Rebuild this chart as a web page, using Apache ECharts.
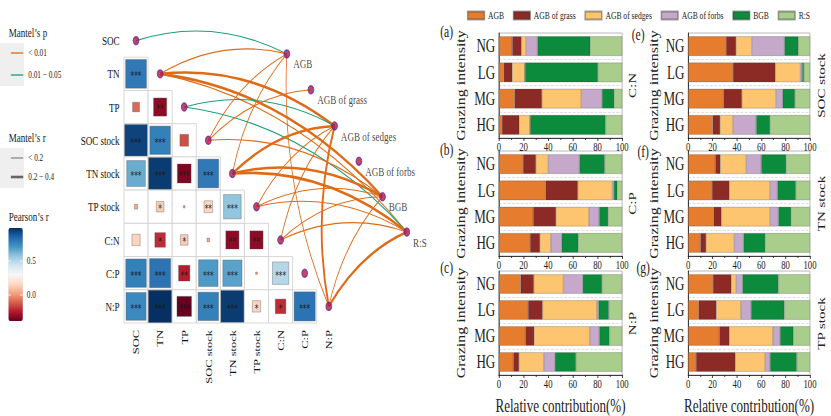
<!DOCTYPE html>
<html><head><meta charset="utf-8">
<script src="https://cdn.jsdelivr.net/npm/echarts@6/dist/echarts.min.js"></script>
<style>
html,body{margin:0;padding:0;overflow:hidden;background:#fff;width:831px;height:416px}
#chart{width:1146px;height:416px;transform:scaleX(0.72513);transform-origin:0 0;}
</style></head><body><div id="chart"></div>
<script>
// ---------- data ----------
const soilVars = ['SOC','TN','TP','SOC stock','TN stock','TP stock','C:N','C:P','N:P'];
const pearsonR = [
  [],
  [0.80],
  [-0.10,-0.33],
  [0.95,0.78,-0.15],
  [0.65,0.97,-0.36,0.80],
  [0.03,0.12,0.01,0.15,0.58],
  [0.14,-0.22,0.12,0.02,-0.33,-0.33],
  [0.78,0.82,-0.25,0.70,0.68,0.01,0.50],
  [0.75,1.00,-0.40,0.78,0.97,0.14,-0.22,0.82]
];
const pearsonSig = [
  [],
  [3],
  [0,2],
  [3,3,0],
  [3,3,3,3],
  [0,1,0,2,3],
  [0,1,1,0,2,2],
  [3,3,2,3,3,0,3],
  [3,3,3,3,3,1,1,3]
];
const respNames = ['AGB','AGB of grass','AGB of sedges','AGB of forbs','BGB','R:S'];
const respX = [6.76,7.76,8.74,9.75,10.73,11.74];
const respY = [0.90,1.98,3.07,4.13,5.20,6.26];
// [soil var index, response index, p class (0: <0.01, 1: 0.01-0.05), r class (0: <0.2, 1: 0.2-0.4)]
const mantelLinks = [
  [0,0,1,0],
  [1,0,0,0],[1,2,0,1],[1,4,0,1],[1,5,0,0],
  [2,2,1,0],[2,5,1,0],
  [3,0,0,0],[3,1,0,0],[3,4,0,0],
  [4,0,0,0],[4,2,0,1],[4,4,0,1],[4,5,0,1],
  [5,2,0,0],[5,4,0,0],[5,5,0,0],
  [6,2,0,0],[6,4,0,0],[6,5,0,0],
  [8,0,0,0],[8,2,0,1],[8,4,0,0],[8,5,0,1]
];

const grazing = ['NG','LG','MG','HG'];
const comps = ['AGB','AGB of grass','AGB of sedges','AGB of forbs','BGB','R:S'];
const contribCN = [
  [10.8,7.5,3.8,9.2,42.8,25.9],
  [4.0,6.8,10.2,0.3,59.0,19.7],
  [12.8,22.1,31.9,16.9,9.8,6.5],
  [2.5,14.0,8.7,0.3,61.0,13.5]
];
const contribCP = [
  [19.6,10.4,10.1,25.3,20.4,14.2],
  [37.9,26.1,28.1,1.2,2.7,4.0],
  [27.8,18.5,26.7,8.4,7.2,11.4],
  [25.3,8.0,8.8,8.9,13.4,35.6]
];
const contribNP = [
  [17.7,10.6,24.0,15.8,15.5,16.4],
  [23.7,11.7,44.1,1.4,8.2,10.9],
  [21.5,7.1,45.0,7.9,8.2,10.3],
  [11.7,4.6,20.2,9.0,16.9,37.6]
];
const contribSOCstock = [
  [31.1,8.2,13.1,26.7,11.4,9.5],
  [36.8,34.8,20.6,1.4,1.4,5.0],
  [29.0,15.1,28.2,5.3,10.0,12.4],
  [20.2,6.0,10.6,19.1,11.3,32.8]
];
const contribTNstock = [
  [22.3,4.1,21.3,12.3,20.4,19.6],
  [19.6,14.2,33.5,6.0,15.0,11.7],
  [21.0,6.3,40.0,6.8,10.4,15.5],
  [10.1,4.6,23.2,7.6,17.7,36.8]
];
const contribTPstock = [
  [20.4,15.0,4.1,5.2,29.4,25.9],
  [8.7,14.4,20.2,8.4,27.3,21.0],
  [25.6,8.2,35.7,6.0,10.9,13.6],
  [6.5,32.2,24.5,4.1,21.8,10.9]
];
const xTicks = [0,20,40,60,80,100];

// ---------- styles / layout ----------
const FF = '"Liberation Serif","Times New Roman",serif';
const compColors = ['#E67D2E','#8C2A26','#FDC56F','#C6A8CB','#0B8B3B','#A9CD8B'];
const RdBu = ['#67001F','#B2182B','#D6604D','#F4A582','#FDDBC7','#F7F7F7','#D1E5F0','#92C5DE','#4393C3','#2166AC','#053061'];
const P_COL = ['#DE6B17','#1B9E77'];
const R_W = [1.1,2.6];

const panels = [
  {data:contribCN, side:'C:N', tag:'(a)', left:688, top:33, width:170, nameGap:44, tagX:616, tagY:32, sideX:872, bottom:false},
  {data:contribCP, side:'C:P', tag:'(b)', left:688, top:151, width:170, nameGap:44, tagX:616, tagY:150, sideX:872, bottom:false},
  {data:contribNP, side:'N:P', tag:'(c)', left:688, top:271, width:170, nameGap:44, tagX:616, tagY:268, sideX:872, bottom:true},
  {data:contribSOCstock, side:'SOC stock', tag:'(e)', left:949, top:33, width:168, nameGap:39, tagX:880, tagY:35, sideX:1132, bottom:false},
  {data:contribTNstock, side:'TN stock', tag:'(f)', left:949, top:151, width:168, nameGap:39, tagX:887, tagY:152, sideX:1132, bottom:false},
  {data:contribTPstock, side:'TP stock', tag:'(g)', left:949, top:271, width:168, nameGap:39, tagX:887, tagY:268, sideX:1132, bottom:true}
];
const PH = 105;

const chart = echarts.init(document.getElementById('chart'), null, {renderer:'svg', width:1146, height:416});

const heatData = [];
pearsonR.forEach((row,i)=>row.forEach((r,j)=>heatData.push([j,i,r,pearsonSig[i][j]])));

const linkData = mantelLinks.map(([e,k,p,rc])=>({
  coords:[[e+0.5,e+0.5],[respX[k],respY[k]]],
  lineStyle:{color:P_COL[p], width:R_W[rc], curveness:0.15, opacity:1}
}));

const grids = [
  {left:171, top:24, width:299, height:299},
  {left:171, top:24, width:398.7, height:299}
];
const xAxes = [
  {gridIndex:0, type:'category', data:soilVars, position:'bottom',
   axisLine:{show:false}, axisTick:{show:false}, splitLine:{show:false},
   axisLabel:{rotate:90, fontSize:12.5, margin:7, color:'#111', fontFamily:FF}},
  {gridIndex:1, type:'value', min:0, max:12, show:false}
];
const yAxes = [
  {gridIndex:0, type:'category', data:soilVars, inverse:true,
   axisLine:{show:false}, axisTick:{show:false}, splitLine:{show:false},
   axisLabel:{fontSize:12.5, margin:6, color:'#111', fontFamily:FF}},
  {gridIndex:1, type:'value', min:0, max:9, inverse:true, show:false}
];

const series = [
  {type:'custom', xAxisIndex:0, yAxisIndex:0, data:heatData, z:2,
   renderItem:(params, api)=>{
     const c = api.coord([api.value(0), api.value(1)]);
     const s = api.size([1,1]);
     const f = Math.min(1, Math.sqrt(Math.abs(api.value(2))));
     const w = s[0]*f, h = s[1]*f;
     const n = api.value(3);
     return {type:'group', children:[
       {type:'rect', shape:{x:c[0]-s[0]/2, y:c[1]-s[1]/2, width:s[0], height:s[1]},
        style:{fill:'#fff', stroke:'#d2d2d2', lineWidth:1}},
       {type:'rect', shape:{x:c[0]-w/2+0.5, y:c[1]-h/2+0.5, width:w-1, height:h-1},
        style:{fill:api.visual('color'), stroke:'rgba(80,80,80,0.5)', lineWidth:0.8}},
       {type:'text', style:{text:'*'.repeat(n), x:c[0], y:c[1]+2, textAlign:'center', textVerticalAlign:'middle',
        fill:'#1a1a1a', fontSize:10, fontFamily:'DejaVu Sans'}}
     ]};
   }},
  {type:'lines', coordinateSystem:'cartesian2d', xAxisIndex:1, yAxisIndex:1, polyline:false,
   silent:true, z:3, data:linkData, lineStyle:{opacity:1}},
  {type:'scatter', xAxisIndex:1, yAxisIndex:1, z:5, symbolSize:8, silent:true,
   itemStyle:{color:'#B0164E', borderColor:'#5F2E93', borderWidth:1.3},
   data:soilVars.map((v,j)=>[j+0.5,j+0.5])},
  {type:'scatter', xAxisIndex:1, yAxisIndex:1, z:5, symbolSize:8, silent:true,
   itemStyle:{color:'#B0164E', borderColor:'#5F2E93', borderWidth:1.3},
   label:{show:true, position:'right', distance:4, offset:[0,10], formatter:'{b}', fontSize:12.5, color:'#111', fontFamily:FF},
   data:respNames.map((n,k)=>({name:n, value:[respX[k], respY[k]]}))}
];

const graphics = [];
panels.forEach((p, pi)=>{
  const gi = pi + 2;
  grids.push({left:p.left, top:p.top, width:p.width, height:PH, show:true, borderColor:'#9a9a9a', borderWidth:0.8});
  xAxes.push({gridIndex:gi, type:'value', min:0, max:100, interval:20,
    axisLine:{show:true, lineStyle:{color:'#222', width:1}},
    axisTick:{show:true, length:3, lineStyle:{color:'#222'}},
    minorTick:{show:true, splitNumber:2, length:2, lineStyle:{color:'#222'}},
    splitLine:{show:false},
    axisLabel:{fontSize:12, margin:3, color:'#222', fontFamily:FF, formatter:v=>xTicks.includes(v)?String(v):''},
    name: p.bottom ? 'Relative contribution(%)' : '', nameLocation:'middle', nameGap:22,
    nameTextStyle:{fontSize:18, color:'#222', fontFamily:FF}});
  yAxes.push({gridIndex:gi, type:'category', data:grazing, inverse:true,
    axisLine:{show:true, lineStyle:{color:'#222', width:1}},
    axisTick:{show:false},
    splitLine:{show:true, lineStyle:{color:'#dadada', width:1, type:'dashed'}},
    axisLabel:{fontSize:18, margin:5, color:'#222', fontFamily:FF},
    name:'Grazing intensity', nameLocation:'middle', nameGap:p.nameGap,
    nameTextStyle:{fontSize:16, color:'#222', fontFamily:FF}});
  comps.forEach((c, ci)=>{
    series.push({type:'bar', name:c, stack:'p'+pi, xAxisIndex:gi, yAxisIndex:gi, barCategoryGap:'25%',
      itemStyle:{color:compColors[ci], borderColor:'rgba(50,50,50,0.45)', borderWidth:0.6},
      data:grazing.map((g, gIdx)=>p.data[gIdx][ci])});
  });
  graphics.push({type:'text', x:p.tagX, y:p.tagY, style:{text:p.tag, fontSize:16, fontFamily:FF, fill:'#222', textAlign:'center', textVerticalAlign:'middle'}});
  graphics.push({type:'text', x:p.sideX, y:p.top+PH/2, rotation:Math.PI/2,
    style:{text:p.side, fontSize:15, fontFamily:FF, fill:'#222', textAlign:'center', textVerticalAlign:'middle'}});
});

// left legends
const T = (x,y,t,fs,extra)=>Object.assign({type:'text', x, y, style:{text:t, fontSize:fs, fontFamily:FF, fill:'#222', textAlign:'left', textVerticalAlign:'middle'}}, extra||{});
graphics.push(T(12,32,'Mantel’s p',12.5));
graphics.push({type:'rect', shape:{x:0,y:43,width:33,height:43}, style:{fill:'#EFEFEF'}});
graphics.push({type:'line', shape:{x1:15,y1:53,x2:32,y2:53}, style:{stroke:P_COL[0], lineWidth:1.3}});
graphics.push({type:'line', shape:{x1:15,y1:75,x2:32,y2:75}, style:{stroke:P_COL[1], lineWidth:1.3}});
graphics.push(T(39,53,'< 0.01',10));
graphics.push(T(39,75,'0.01 − 0.05',10));
graphics.push(T(12,137,'Mantel’s r',12.5));
graphics.push({type:'rect', shape:{x:0,y:148,width:33,height:40}, style:{fill:'#EFEFEF'}});
graphics.push({type:'line', shape:{x1:15,y1:158,x2:32,y2:158}, style:{stroke:'#777', lineWidth:R_W[0]}});
graphics.push({type:'line', shape:{x1:15,y1:177,x2:32,y2:177}, style:{stroke:'#666', lineWidth:R_W[1]}});
graphics.push(T(39,158,'< 0.2',10));
graphics.push(T(39,177,'0.2 − 0.4',10));
graphics.push(T(12,216,'Pearson’s r',12.5));
graphics.push(T(37,261,'0.5',10));
graphics.push(T(37,295,'0.0',10));
[261,295].forEach(y=>{
  graphics.push({type:'line', z:100, shape:{x1:11.5,y1:y,x2:15,y2:y}, style:{stroke:'#fff', lineWidth:1}});
  graphics.push({type:'line', z:100, shape:{x1:27.5,y1:y,x2:31,y2:y}, style:{stroke:'#fff', lineWidth:1}});
});

chart.setOption({
  animation:false,
  backgroundColor:'#fff',
  textStyle:{fontFamily:FF},
  grid:grids, xAxis:xAxes, yAxis:yAxes, series:series,
  legend:{data:comps, left:644, top:10, width:500, padding:0, itemWidth:23, itemHeight:8, itemGap:12, icon:'rect',
    textStyle:{fontSize:10.5, fontFamily:FF, color:'#222'}, selectedMode:false},
  visualMap:{type:'continuous', min:-0.4, max:1.0, seriesIndex:0, dimension:2,
    inRange:{color:RdBu}, left:11.5, top:228, itemWidth:20, itemHeight:93, padding:0,
    calculable:false, hoverLink:false, text:null, showLabel:false},
  graphic:graphics
});
</script></body></html>
